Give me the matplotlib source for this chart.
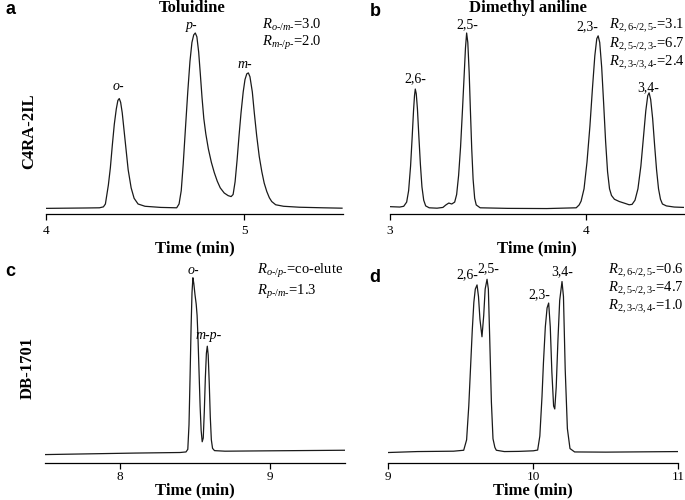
import matplotlib
matplotlib.use("Agg")
import matplotlib.pyplot as plt

plt.rcParams['font.family'] = ['Liberation Serif', 'DejaVu Serif']
plt.rcParams['mathtext.fontset'] = 'custom'
plt.rcParams['mathtext.rm'] = 'Liberation Serif'
plt.rcParams['mathtext.it'] = 'Liberation Serif:italic'
plt.rcParams['mathtext.bf'] = 'Liberation Serif:bold'

# ---------------- data ----------------
# (a) Toluidine on C4RA-2IL
time_a = [4.00, 4.20, 4.27, 4.29, 4.30, 4.315, 4.325, 4.335, 4.345, 4.355, 4.363, 4.37,
          4.377, 4.385, 4.395, 4.405, 4.415, 4.43, 4.445, 4.465, 4.50, 4.58, 4.66,
          4.672, 4.683, 4.693, 4.705, 4.716, 4.727, 4.737, 4.746, 4.754, 4.762, 4.771,
          4.779, 4.788, 4.797, 4.807, 4.82, 4.835, 4.85, 4.865, 4.88, 4.90, 4.92, 4.935,
          4.945, 4.955, 4.965, 4.975, 4.985, 4.996, 5.005, 5.014, 5.022, 5.030, 5.042,
          5.052, 5.064, 5.077, 5.090, 5.102, 5.115, 5.128, 5.140, 5.16, 5.20, 5.28, 5.40, 5.495]
signal_a = [2.7, 2.9, 3.0, 3.5, 5.0, 15.0, 24.0, 36.0, 47.0, 55.0, 59.5, 60.5,
            58.5, 53.0, 43.0, 33.0, 23.0, 13.5, 8.0, 5.0, 3.8, 3.2, 3.0,
            5.0, 12.0, 26.0, 46.0, 64.0, 80.0, 90.0, 94.0, 95.0, 93.0, 85.0,
            74.0, 61.0, 50.0, 42.0, 34.0, 27.0, 21.5, 17.0, 13.5, 10.8, 9.4, 8.9,
            10.0, 16.7, 28.0, 41.0, 53.0, 64.0, 70.5, 73.5, 74.0, 72.0, 64.0,
            53.0, 41.0, 30.0, 22.0, 16.0, 11.6, 8.3, 6.3, 4.6, 3.8, 3.3, 3.0, 2.8]

# (b) Dimethyl aniline on C4RA-2IL
time_b = [3.00, 3.05, 3.07, 3.085, 3.095, 3.105, 3.113, 3.12, 3.125, 3.129, 3.134, 3.14,
          3.147, 3.155, 3.163, 3.172, 3.182, 3.20, 3.24, 3.27, 3.285, 3.30, 3.315,
          3.33, 3.34, 3.35, 3.36, 3.37, 3.378, 3.385, 3.391, 3.397, 3.404, 3.41, 3.417,
          3.424, 3.432, 3.44, 3.46, 3.60, 3.80, 3.95, 3.965, 3.975, 3.99, 4.005, 4.02,
          4.033, 4.045, 4.055, 4.062, 4.07, 4.08, 4.09, 4.10, 4.11, 4.12, 4.13, 4.145,
          4.17, 4.20, 4.22, 4.235, 4.25, 4.265, 4.28, 4.293, 4.305, 4.315, 4.322, 4.33,
          4.34, 4.35, 4.36, 4.37, 4.38, 4.39, 4.41, 4.45, 4.50]
signal_b = [3.6, 3.4, 3.8, 6.0, 12.0, 25.0, 40.0, 54.0, 62.0, 65.5, 63.0, 55.0,
            41.0, 26.0, 14.0, 7.0, 4.0, 3.0, 2.8, 3.2, 4.5, 5.5, 5.0,
            6.0, 10.0, 20.0, 35.0, 55.0, 72.0, 87.0, 95.0, 90.0, 74.0, 55.0, 34.0,
            18.0, 8.0, 4.5, 3.0, 2.7, 2.6, 3.0, 4.5, 6.5, 13.0, 27.0, 46.0,
            66.0, 83.0, 92.0, 93.5, 90.0, 77.0, 58.0, 38.0, 22.0, 13.0, 9.5, 7.5,
            6.3, 5.3, 4.6, 4.8, 7.0, 13.0, 25.0, 40.0, 54.0, 62.0, 63.5, 60.0,
            50.0, 36.0, 23.0, 13.0, 7.5, 5.0, 4.0, 3.4, 3.2]

# (c) Toluidine on DB-1701
time_c = [7.5, 7.8, 8.1, 8.40, 8.44, 8.452, 8.460, 8.467, 8.474, 8.480, 8.486, 8.492,
          8.50, 8.508, 8.514, 8.52, 8.527, 8.534, 8.541, 8.548, 8.555, 8.562, 8.569,
          8.576, 8.582, 8.588, 8.595, 8.602, 8.609, 8.617, 8.63, 8.7, 9.0, 9.5]
signal_c = [4.2, 4.6, 5.0, 5.3, 5.6, 7.0, 20.0, 45.0, 72.0, 90.0, 98.0, 95.0,
            89.0, 84.0, 78.0, 66.0, 48.0, 30.0, 17.0, 11.0, 13.0, 27.0, 45.0,
            58.0, 61.7, 57.0, 42.0, 24.0, 12.0, 7.5, 6.3, 6.0, 6.2, 6.5]

# (d) Dimethyl aniline on DB-1701
time_d = [9.00, 9.2, 9.45, 9.52, 9.54, 9.555, 9.567, 9.579, 9.59, 9.60, 9.612, 9.622,
          9.632, 9.646, 9.658, 9.668, 9.681, 9.69, 9.699, 9.711, 9.722, 9.735, 9.745,
          9.80, 9.9, 10.0, 10.03, 10.045, 10.06, 10.07, 10.083, 10.095, 10.106, 10.117,
          10.128, 10.14, 10.148, 10.158, 10.17, 10.182, 10.198, 10.208, 10.22, 10.235,
          10.253, 10.285, 10.5, 11.0]
signal_d = [5.3, 5.8, 6.0, 6.5, 12.0, 30.0, 50.0, 70.0, 85.0, 92.0, 94.2, 88.0,
            76.0, 66.7, 78.0, 92.0, 97.2, 92.0, 67.0, 32.0, 12.6, 8.0, 6.5,
            5.8, 5.9, 6.2, 6.6, 14.0, 35.0, 53.0, 72.0, 82.0, 84.6, 72.0,
            48.0, 30.0, 28.4, 40.0, 65.0, 86.0, 96.0, 88.0, 49.5, 18.0,
            7.4, 5.6, 5.5, 5.8]

xlims = [(4, 5.5), (3, 4.5), (7.5, 9.5), (9, 11)]
xticks = [[4, 5], [3, 4], [8, 9], [9, 10, 11]]

peak_labels_a = [("o-", 4.364, 67.1, True), ("p-", 4.737, 99.2, True), ("m-", 5.005, 78.2, True)]
peak_labels_b = [("2,6-", 3.128, 70.8, False), ("2,5-", 3.392, 99.2, False),
                 ("2,3-", 4.005, 98.2, False), ("3,4-", 4.318, 66.0, False)]
peak_labels_c = [("o-", 8.487, 101.6, True), ("m-p-", 8.592, 67.4, True)]
peak_labels_d = [("2,6-", 9.543, 99.5, False), ("2,5-", 9.688, 103.0, False),
                 ("2,3-", 10.039, 89.0, False), ("3,4-", 10.198, 101.0, False)]

res_a = [r"$R_{o\text{-}/m\text{-}}$=3.0", r"$R_{m\text{-}/p\text{-}}$=2.0"]
res_b = [r"$R_{\mathit{2,6}\text{-}/\mathit{2,5}\text{-}}$=3.1",
         r"$R_{\mathit{2,5}\text{-}/\mathit{2,3}\text{-}}$=6.7",
         r"$R_{\mathit{2,3}\text{-}/\mathit{3,4}\text{-}}$=2.4"]
res_c = [r"$R_{o\text{-}/p\text{-}}$=co-elute", r"$R_{p\text{-}/m\text{-}}$=1.3"]
res_d = [r"$R_{\mathit{2,6}\text{-}/\mathit{2,5}\text{-}}$=0.6",
         r"$R_{\mathit{2,5}\text{-}/\mathit{2,3}\text{-}}$=4.7",
         r"$R_{\mathit{2,3}\text{-}/\mathit{3,4}\text{-}}$=1.0"]

# ---------------- figure ----------------
W, H = 685, 500
fig = plt.figure(figsize=(W / 100, H / 100), dpi=100)


def px_axes(x0, x1, y_spine, h=190):
    return fig.add_axes([x0 / W, 1 - y_spine / H, (x1 - x0) / W, h / H])


axs = [px_axes(46, 343, 213.5), px_axes(390, 684, 213.5),
       px_axes(45, 345, 462.5, 188.5), px_axes(388.3, 678.3, 462.5, 188.5)]
times = [time_a, time_b, time_c, time_d]
sigs = [signal_a, signal_b, signal_c, signal_d]
plabels = [peak_labels_a, peak_labels_b, peak_labels_c, peak_labels_d]
rtexts = [res_a, res_b, res_c, res_d]
rpos = [(0.727, [0.992, 0.897]), (0.745, [0.987, 0.887, 0.792]),
        (0.707, [1.016, 0.905]), (0.758, [1.016, 0.921, 0.826])]
tick_pads = [4.5, 4.5, 2.0, 2.0]
label_pads = [2.5, 2.5, 0.0, 0.0]

for ax, t, s, xl, xt, pl, rt, rp, tp, lp in zip(axs, times, sigs, xlims, xticks, plabels,
                                                 rtexts, rpos, tick_pads, label_pads):
    ax.plot(t, s, color='#1a1a1a', lw=0.9, solid_joinstyle='round')
    ax.set_xlim(*xl)
    ax.set_ylim(0, 100)
    ax.set_xticks(xt)
    ax.set_xticklabels([str(v) for v in xt])
    ax.set_yticks([])
    for sp in ['left', 'top', 'right']:
        ax.spines[sp].set_visible(False)
    ax.spines['bottom'].set_linewidth(0.9)
    ax.tick_params(axis='x', direction='out', length=4, width=0.9, labelsize=9.5, pad=tp)
    ax.set_xlabel('Time (min)', fontsize=12, fontweight='bold', labelpad=lp)
    ax.patch.set_visible(False)
    for txt, x, y, ital in pl:
        ax.text(x, y, txt, fontsize=10, style='italic' if ital else 'normal',
                ha='center', va='center', clip_on=False)
    x0, ys = rp
    for txt, y in zip(rt, ys):
        ax.text(x0, y, txt, transform=ax.transAxes, fontsize=10.5, ha='left', va='center',
                clip_on=False)

# titles, row labels, panel letters
fig.text(192 / W, 1 - 8 / H, 'Toluidine', fontsize=12, fontweight='bold', ha='center', va='center')
fig.text(528 / W, 1 - 7.5 / H, 'Dimethyl aniline', fontsize=12, fontweight='bold', ha='center', va='center')
fig.text(29 / W, 1 - 131 / H, 'C4RA-2IL', fontsize=12, fontweight='bold', rotation=90,
         ha='center', va='center')
fig.text(28 / W, 1 - 368 / H, 'DB-1701', fontsize=12, fontweight='bold', rotation=90,
         ha='center', va='center')
for letter, x, y in [('a', 10, 10), ('b', 375, 12), ('c', 10, 271), ('d', 375, 277)]:
    fig.text(x / W, 1 - y / H, letter, fontsize=13, fontweight='bold', ha='center', va='center',
             family='Liberation Sans')

fig.savefig('out.png', dpi=100)
